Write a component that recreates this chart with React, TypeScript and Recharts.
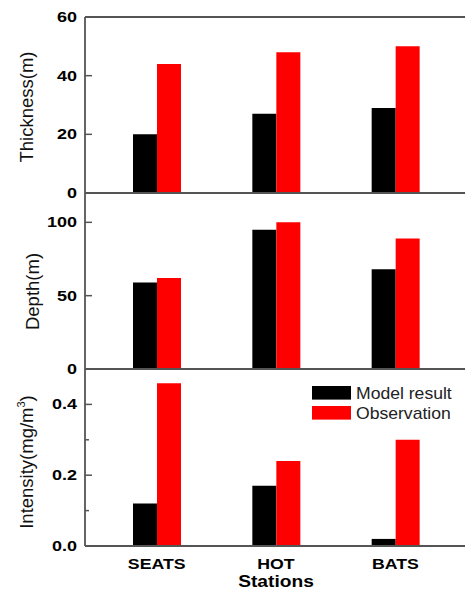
import { Bar, BarChart, Legend, ReferenceLine, XAxis, YAxis } from "recharts";

const stations = ["SEATS", "HOT", "BATS"];
const thicknessModel = [20, 27, 29];
const thicknessObs = [44, 48, 50];
const depthModel = [59, 95, 68];
const depthObs = [62, 100, 89];
const intensityModel = [0.12, 0.17, 0.02];
const intensityObs = [0.46, 0.24, 0.3];

const thicknessTicks = [0, 20, 40, 60];
const depthTicks = [0, 50, 100];
const intensityTicks = [0, 0.1, 0.2, 0.3, 0.4];
const intensityLabels = [0, 0.2, 0.4];

const seriesNames = ["Model result", "Observation"];

const AXIS = "#555";
const FONT = "'Liberation Sans', Arial, sans-serif";
const W = 475;

const rows = (model: number[], obs: number[]) =>
  stations.map((station, i) => ({ station, model: model[i], obs: obs[i] }));

const makeYTick = (labels: number[], fmt: (v: number) => string) => (props: any) => {
  const { x, y, payload } = props;
  const ax = x + 8;
  const major = labels.includes(payload.value);
  return (
    <g>
      <line x1={ax} x2={ax + (major ? 7 : 4)} y1={y} y2={y} stroke={AXIS} strokeWidth={1.5} />
      {major && (
        <text
          transform={`translate(${ax - 8},${y}) scale(1.2,1)`}
          textAnchor="end"
          dominantBaseline="central"
          fontFamily={FONT}
          fontWeight="bold"
          fontSize={15}
          fill="#000"
        >
          {fmt(payload.value)}
        </text>
      )}
    </g>
  );
};

const XTick = (props: any) => {
  const { x, y, payload } = props;
  return (
    <text
      transform={`translate(${x},${y + 23}) scale(1.18,1)`}
      textAnchor="middle"
      fontFamily={FONT}
      fontWeight="bold"
      fontSize={15}
      fill="#000"
    >
      {payload.value}
    </text>
  );
};

const axisTitle = (x: number, y: number, children: any) => () => (
  <text
    x={x}
    y={y}
    transform={`rotate(-90, ${x}, ${y})`}
    textAnchor="middle"
    fontFamily={FONT}
    fontSize={18.5}
    fill="#111"
  >
    {children}
  </text>
);

const LegendBox = (props: any) => {
  const items = props.payload || [];
  return (
    <svg width={153} height={40}>
      {items.map((item: any, i: number) => (
        <g key={item.value}>
          <rect x={0} y={1 + i * 20} width={39} height={13.6} fill={item.color} />
          <text
            transform={`translate(44,${13.5 + i * 20.5}) scale(1.1,1)`}
            fontFamily={FONT}
            fontSize={16}
            fill="#222"
          >
            {item.value}
          </text>
        </g>
      ))}
    </svg>
  );
};

const axisProps = { stroke: AXIS, strokeWidth: 1.8 };

function Panel({
  top,
  height,
  margin,
  data,
  domain,
  ticks,
  labels,
  fmt,
  title,
  xAxisHeight,
  bottom,
}: any) {
  return (
    <div style={{ position: "absolute", left: 0, top }}>
      <BarChart width={W} height={height} data={data} margin={margin} barGap={0}>
        <XAxis
          dataKey="station"
          padding={{ left: 12, right: 20 }}
          height={xAxisHeight}
          axisLine={axisProps}
          tickLine={false}
          tickSize={0}
          tickMargin={0}
          tick={bottom ? XTick : false}
          interval={0}
          label={
            bottom
              ? {
                  content: () => (
                    <text
                      transform={`translate(276,${587 - top}) scale(1.2,1)`}
                      textAnchor="middle"
                      fontFamily={FONT}
                      fontWeight="bold"
                      fontSize={16}
                      fill="#000"
                    >
                      Stations
                    </text>
                  ),
                }
              : undefined
          }
        />
        <YAxis
          width={85}
          domain={domain}
          ticks={ticks}
          interval={0}
          axisLine={axisProps}
          tickLine={false}
          tickSize={0}
          tickMargin={8}
          tick={makeYTick(labels, fmt)}
          label={{ content: title }}
        />
        {bottom && (
          <Legend
            layout="horizontal"
            verticalAlign="middle"
            align="center"
            content={LegendBox}
            wrapperStyle={{ left: 312, top: 25, width: 153, height: 40 }}
          />
        )}
        <Bar dataKey="model" name={seriesNames[0]} fill="#000000" barSize={24} isAnimationActive={false} />
        <Bar dataKey="obs" name={seriesNames[1]} fill="#ff0000" barSize={24} isAnimationActive={false} />
        {top === 0 && <ReferenceLine y={domain[1]} stroke={AXIS} strokeWidth={1.8} />}
      </BarChart>
    </div>
  );
}

export default function App() {
  return (
    <div
      style={{
        position: "absolute",
        left: 0,
        top: 0,
        width: 465,
        height: 595,
        overflow: "hidden",
        background: "#fff",
      }}
    >
      <Panel
        top={0}
        height={212}
        margin={{ top: 17, right: 0, bottom: 18, left: 0 }}
        xAxisHeight={1}
        data={rows(thicknessModel, thicknessObs)}
        domain={[0, 60]}
        ticks={thicknessTicks}
        labels={thicknessTicks}
        fmt={(v: number) => String(v)}
        title={axisTitle(33, 107, "Thickness(m)")}
      />
      <Panel
        top={185}
        height={202}
        margin={{ top: 8, right: 0, bottom: 17, left: 0 }}
        xAxisHeight={1}
        data={rows(depthModel, depthObs)}
        domain={[0, 120]}
        ticks={depthTicks}
        labels={depthTicks}
        fmt={(v: number) => String(v)}
        title={axisTitle(39, 291.5 - 185, "Depth(m)")}
      />
      <Panel
        top={360}
        height={235}
        margin={{ top: 9, right: 0, bottom: 0, left: 0 }}
        xAxisHeight={49}
        bottom
        data={rows(intensityModel, intensityObs)}
        domain={[0, 0.5]}
        ticks={intensityTicks}
        labels={intensityLabels}
        fmt={(v: number) => v.toFixed(1)}
        title={axisTitle(
          33,
          462 - 360,
          <>
            Intensity(mg/m
            <tspan fontSize={11} dy={-8}>3</tspan>
            <tspan dy={8}>)</tspan>
          </>
        )}
      />
    </div>
  );
}
